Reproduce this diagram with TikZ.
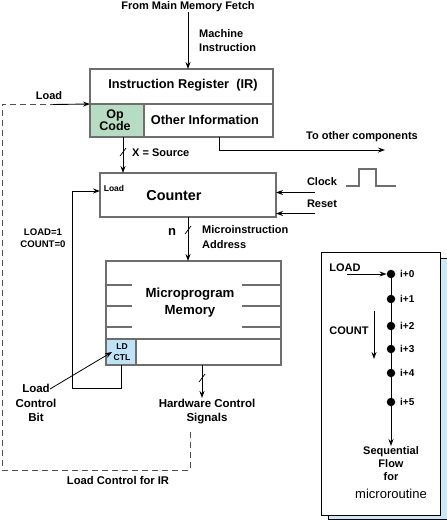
\documentclass[tikz,border=0pt]{standalone}
\usepackage{fontspec}
\setmainfont{Liberation Sans}
\usetikzlibrary{arrows.meta,calc}
\definecolor{boxgray}{HTML}{6E6E6E}
\definecolor{opgreen}{HTML}{B7DCC4}
\definecolor{ldblue}{HTML}{BEE3F6}
\definecolor{shadowblue}{HTML}{C9E8F8}
\definecolor{dashgray}{HTML}{505050}
\begin{document}
\begin{tikzpicture}[x=1pt,y=-1pt,
  box/.style={draw=boxgray,line width=1.4pt,inner sep=0,outer sep=0},
  lbl/.style={font=\bfseries\fontsize{11}{14}\selectfont,inner sep=0,align=center},
  big/.style={font=\bfseries\fontsize{12.8}{15}\selectfont,inner sep=0,align=center},
  tiny/.style={font=\bfseries\fontsize{8.5}{11}\selectfont,inner sep=0,align=center},
  arr/.style={line width=0.9pt,-{Stealth[length=7pt,width=5pt]}},
  ln/.style={line width=0.9pt},
  dashline/.style={draw=dashgray,line width=0.9pt,dash pattern=on 6pt off 4pt},
  dot/.style={circle,fill=black,minimum size=8.5pt,inner sep=0},
  slash/.style={line width=0.7pt}
]
\useasboundingbox (0,0) rectangle (447,520);

% ---------- Instruction register ----------
\node[box,minimum width=183pt,minimum height=35pt] (ir) at (181.5,86.5) {};
\node[big] (irtxt) at (183,85) {Instruction Register\ \ (IR)};
\node[box,fill=opgreen,minimum width=54pt,minimum height=33pt] (op) at (117,120.5) {};
\node[big,font=\bfseries\fontsize{12.5}{12}\selectfont] (optxt) at (115,120) {Op\\Code};
\node[box,minimum width=129pt,minimum height=33pt] (oi) at (208.5,120.5) {};
\node[big] (oitxt) at (205,120) {Other Information};

\node[lbl] (fetch) at (188,7) {From Main Memory Fetch};
\node[lbl,anchor=west,align=left] (mi) at (199,41) {Machine\\Instruction};
\draw[arr] (fetch.south) -- (fetch.south |- ir.north);

% ---------- Counter ----------
\node[box,minimum width=176pt,minimum height=44pt] (ctr) at (188,195) {};
\node[font=\bfseries\fontsize{14.4}{16}\selectfont,inner sep=0] (ctrtxt) at (174,196) {Counter};
\node[tiny] (ctrload) at (114,188) {Load};

\coordinate (opout) at ($(op.south)+(6,0)$);
\draw[arr] (opout) -- (opout |- ctr.north);
\coordinate (s1) at ($(opout)+(0,15)$);
\draw[slash] ($(s1)+(-3,4)$) -- ($(s1)+(3,-4)$);
\node[lbl,anchor=west] (xs) at (132,153) {X = Source};

\coordinate (oiout) at ($(oi.south)+(10.5,0)$);
\coordinate (toc) at (385,150);
\draw[arr] (oiout) -- (oiout |- toc) -- (toc);
\node[lbl] (toctxt) at (362,137) {To other components};

% clock / reset
\node[lbl] (clk) at (322,182) {Clock};
\node[lbl] (rst) at (322,204) {Reset};
\coordinate (clkin) at (315,192.5);
\coordinate (rstin) at (315,213.5);
\draw[arr] (clkin) -- (clkin -| ctr.east);
\draw[arr] (rstin) -- (rstin -| ctr.east);
\draw[boxgray,line width=1.2pt] (346,186) -- (359,186) -- (359,169) -- (376,169) -- (376,186) -- (396,186);

% ---------- Microprogram memory ----------
\node[box,minimum width=175pt,minimum height=104pt] (mem) at (193.5,313) {};
\node[big,font=\bfseries\fontsize{13.2}{17}\selectfont] (memtxt) at (190,303) {Microprogram\\Memory};
\draw[boxgray,line width=1.2pt] ($(mem.north west)+(0,78)$) -- ($(mem.north east)+(0,78)$);
\foreach \yy in {24,45,66}{
  \draw[boxgray,line width=1.2pt] ($(mem.north west)+(0,\yy)$) -- ++(26,0);
  \draw[boxgray,line width=1.2pt] ($(mem.north east)+(0,\yy)$) -- ++(-39,0);
}
\node[box,fill=ldblue,minimum width=30pt,minimum height=26pt] (ld) at (121,352) {};
\node[tiny,font=\bfseries\fontsize{8.5}{11}\selectfont] (ldtxt) at (122,352.5) {LD\\CTL};

% counter -> memory
\draw[arr] (ctr.south) -- (ctr.south |- mem.north);
\coordinate (s2) at ($(ctr.south)+(0,13)$);
\draw[slash] ($(s2)+(-3,4)$) -- ($(s2)+(3,-4)$);
\node[font=\bfseries\fontsize{13}{15}\selectfont,inner sep=0] (n) at (172,232) {n};
\node[lbl,anchor=west,align=left,font=\bfseries\fontsize{11}{15}\selectfont] (mia) at (202,237) {Microinstruction\\Address};

% load feedback loop
\coordinate (lb1) at (121,388);
\coordinate (lb2) at (72,388);
\coordinate (lb3) at (72,191);
\draw[arr] (ld.south) -- (lb1) -- (lb2) -- (lb3) -- (lb3 -| ctr.west);
\node[lbl,font=\bfseries\fontsize{9.6}{12}\selectfont] (lc) at (43,238) {LOAD=1\\COUNT=0};

% load control bit
\node[lbl,font=\bfseries\fontsize{11.5}{14.5}\selectfont] (lcb) at (36,403) {Load\\Control\\Bit};
\coordinate (lcbp) at (50,389);
\draw[line width=0.8pt,-{Stealth[length=7pt,width=5pt]}] (lcbp) -- (112,352);

% hardware control
\coordinate (memout) at ($(mem.south)+(8.5,0)$);
\node[lbl,font=\bfseries\fontsize{11.5}{14}\selectfont] (hw) at (207,412) {Hardware Control\\Signals};
\draw[arr] (memout) -- (memout |- 0,398);
\coordinate (s3) at ($(memout)+(0,13)$);
\draw[slash] ($(s3)+(-3,4)$) -- ($(s3)+(3,-4)$);

% dashed load control for IR
\coordinate (dA) at (190,432);
\coordinate (dB) at (190,470);
\coordinate (dC) at (2,470);
\coordinate (dD) at (2,104.5);
\coordinate (dE) at (53,104.5);
\draw[dashline] (dA) -- (dB) -- (dC) -- (dD) -- (dE);
\draw[arr] (dE) -- (op.north west);
\node[lbl] (irload) at (49,96) {Load};
\node[lbl,font=\bfseries\fontsize{11.2}{14}\selectfont] (lcir) at (118,480) {Load Control for IR};

% ---------- Sequential flow panel ----------
\node[draw=black,line width=0.9pt,fill=shadowblue,minimum width=119pt,minimum height=261pt,inner sep=0] (shadow) at (387.5,388.5) {};
\node[draw=black,line width=0.9pt,fill=white,minimum width=119pt,minimum height=263pt,inner sep=0] (panel) at (380.5,383.5) {};

\node[lbl,anchor=north,font=\bfseries\fontsize{11}{13}\selectfont] (seq) at (391,446) {Sequential\\Flow\\for};
\node[inner sep=0,font=\fontsize{13}{15}\selectfont] (micro) at (391,494) {microroutine};

\foreach \i/\yy in {0/274,1/299,2/326,3/349,4/373,5/402}{
  \node[dot] (d\i) at (391,\yy) {};
  \node[lbl,anchor=west,font=\bfseries\fontsize{10}{12}\selectfont] (dl\i) at (400,\yy) {i+\i};
}
\draw[arr] (d0) -- (seq.north);

\node[lbl] (loadp) at (345,268) {LOAD};
\coordinate (loadin) at (347,274);
\draw[arr] (loadin) -- (d0.west);
\node[lbl] (countp) at (349,331) {COUNT};
\coordinate (cnt1) at (374,311);
\coordinate (cnt2) at (374,359);
\draw[arr] (cnt1) -- (cnt2);
\end{tikzpicture}
\end{document}
